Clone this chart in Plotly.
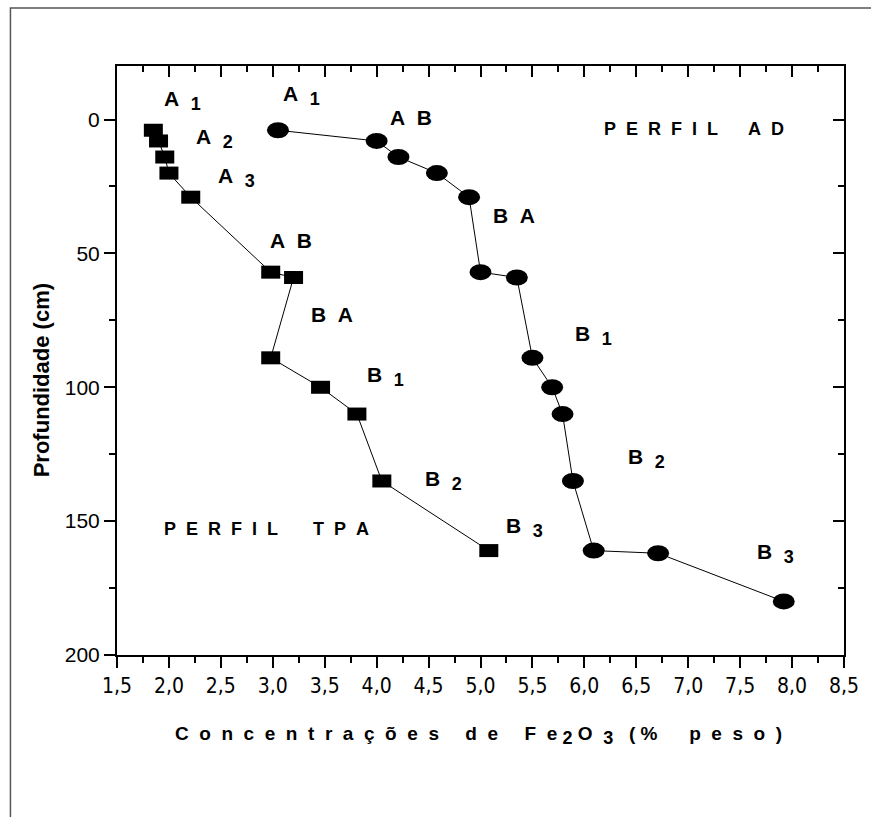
import plotly.graph_objects as go

# ---- data ----
tpa_fe = [1.85, 1.90, 1.96, 2.00, 2.21, 2.98, 3.20, 2.98, 3.46, 3.81, 4.05, 5.08]
tpa_depth = [4, 8, 14, 20, 29, 57, 59, 89, 100, 110, 135, 161]
ad_fe = [3.05, 4.00, 4.21, 4.58, 4.89, 5.00, 5.35, 5.50, 5.69, 5.79, 5.89, 6.09, 6.71, 7.92]
ad_depth = [4, 8, 14, 20, 29, 57, 59, 89, 100, 110, 135, 161, 162, 180]

x_ticks = [1.5, 2.0, 2.5, 3.0, 3.5, 4.0, 4.5, 5.0, 5.5, 6.0, 6.5, 7.0, 7.5, 8.0, 8.5]
y_ticks = [0, 50, 100, 150, 200]

# horizon labels: (main, sub, x, y)
tpa_labels = [("A", "1", 1.93, -7), ("A", "2", 2.24, 7), ("A", "3", 2.45, 21.5),
              ("A\u00a0\u00a0B", "", 2.95, 45), ("B\u00a0\u00a0A", "", 3.35, 73),
              ("B", "1", 3.89, 96), ("B", "2", 4.45, 135), ("B", "3", 5.23, 152.5)]
ad_labels = [("A", "1", 3.08, -9), ("A\u00a0\u00a0B", "", 4.11, -0.7), ("B\u00a0\u00a0A", "", 5.10, 36),
             ("B", "1", 5.89, 80.5), ("B", "2", 6.40, 126.5), ("B", "3", 7.64, 162)]

FONT = "Liberation Sans, Arial, sans-serif"
W, H = 871, 817
ML, MR, MT, MB = 117, 24, 66, 162

fig = go.Figure()
fig.add_trace(go.Scatter(x=tpa_fe, y=tpa_depth, mode="lines",
                         line=dict(color="black", width=1), showlegend=False))
fig.add_trace(go.Scatter(x=ad_fe, y=ad_depth, mode="lines",
                         line=dict(color="black", width=1), showlegend=False))

shapes = []
for xv, yv in zip(tpa_fe, tpa_depth):
    shapes.append(dict(type="rect", xref="x", yref="y", xsizemode="pixel", ysizemode="pixel",
                       xanchor=xv, yanchor=yv, x0=-9.5, x1=9.5, y0=-6.5, y1=6.5,
                       fillcolor="black", line=dict(width=0), layer="above"))
for xv, yv in zip(ad_fe, ad_depth):
    shapes.append(dict(type="circle", xref="x", yref="y", xsizemode="pixel", ysizemode="pixel",
                       xanchor=xv, yanchor=yv, x0=-11, x1=11, y0=-8, y1=8,
                       fillcolor="black", line=dict(width=0), layer="above"))
# outer frame
shapes.append(dict(type="rect", xref="paper", yref="paper",
                   x0=(10 - ML) / (W - ML - MR), x1=(880 - ML) / (W - ML - MR),
                   y0=(H - MB - 830) / (H - MT - MB), y1=(H - MB - 8) / (H - MT - MB),
                   line=dict(color="#555555", width=1.5), fillcolor="rgba(0,0,0,0)", layer="below"))

sp = "\u00a0"


def subtxt(s, size):
    return "<sub><span style='font-size:%dpx'>%s</span></sub>" % (size, s)


ann = []


def lab(main, sub, x, y):
    t = "<b>" + main + (sp * 2 + subtxt(sub, 18) if sub else "") + "</b>"
    ann.append(dict(x=x, y=y, xref="x", yref="y", text=t, showarrow=False,
                    xanchor="left", yanchor="middle", font=dict(family=FONT, size=21, color="black")))


for l in tpa_labels + ad_labels:
    lab(*l)


def spaced(s, gap=2):
    return (sp * gap).join(s)


ann.append(dict(x=1.93, y=153, xref="x", yref="y", xanchor="left", yanchor="middle", showarrow=False,
                text="<b>" + spaced("PERFIL") + sp * 7 + spaced("TPA") + "</b>",
                font=dict(family=FONT, size=18, color="black")))
ann.append(dict(x=6.17, y=3.5, xref="x", yref="y", xanchor="left", yanchor="middle", showarrow=False,
                text="<b>" + spaced("PERFIL") + sp * 6 + spaced("AD") + "</b>",
                font=dict(family=FONT, size=18, color="black")))
# axis titles
g = 2
xt = (spaced("Concentrações", g) + sp * 5 + spaced("de", g) + sp * 5 + "F" + sp * g + "e" + sp
      + subtxt("2", 18) + sp + "O" + sp * g + subtxt("3", 18) + sp * 3 + "(" + sp + "%" + sp * 6
      + spaced("peso", g) + sp * g + ")")
ann.append(dict(x=(480 - ML) / (W - ML - MR), y=(H - MB - 735) / (H - MT - MB), xref="paper", yref="paper",
                showarrow=False, text="<b>" + xt + "</b>", xanchor="center", yanchor="middle",
                font=dict(family=FONT, size=19, color="black")))
ann.append(dict(x=(42 - ML) / (W - ML - MR), y=(H - MB - 380) / (H - MT - MB), xref="paper", yref="paper",
                showarrow=False, text="<b>Profundidade (cm)</b>", textangle=-90,
                xanchor="center", yanchor="middle", font=dict(family=FONT, size=22, color="black")))

xr = [1.5, 8.5]
yr = [200, -20]
tickfont_x = dict(family="Liberation Sans Narrow, DejaVu Sans Condensed, Arial Narrow, " + FONT, size=21, color="black")
fig.update_layout(
    width=W, height=H, margin=dict(l=ML, r=MR, t=MT, b=MB),
    paper_bgcolor="white", plot_bgcolor="white", separators=",.",
    shapes=shapes, annotations=ann, showlegend=False,
    xaxis=dict(range=xr, tickvals=x_ticks, tickformat=".1f", ticks="outside", ticklen=11, tickwidth=2,
               showline=True, linewidth=2, linecolor="black", showgrid=False, zeroline=False,
               tickfont=tickfont_x,
               minor=dict(dtick=0.25, tick0=1.5, ticks="outside", ticklen=6, tickwidth=2, tickcolor="black", showgrid=False),
               tickcolor="black"),
    xaxis2=dict(range=xr, overlaying="x", side="top", tickvals=x_ticks, ticks="inside", ticklen=11, tickwidth=2,
                showticklabels=False, showline=True, linewidth=2, linecolor="black", showgrid=False, zeroline=False,
                minor=dict(dtick=0.25, tick0=1.5, ticks="inside", ticklen=6, tickwidth=2, tickcolor="black", showgrid=False),
                tickcolor="black"),
    yaxis=dict(range=yr, tickvals=y_ticks, ticks="outside", ticklen=11, tickwidth=2,
               showline=True, linewidth=2, linecolor="black", showgrid=False, zeroline=False,
               tickfont=dict(family=FONT, size=21, color="black"),
               minor=dict(dtick=25, tick0=0, ticks="outside", ticklen=6, tickwidth=2, tickcolor="black", showgrid=False),
               tickcolor="black"),
    yaxis2=dict(range=yr, overlaying="y", side="right", tickvals=y_ticks, ticks="inside", ticklen=11, tickwidth=2,
                showticklabels=False, showline=True, linewidth=2, linecolor="black", showgrid=False, zeroline=False,
                minor=dict(dtick=25, tick0=0, ticks="inside", ticklen=6, tickwidth=2, tickcolor="black", showgrid=False),
                tickcolor="black"),
)
# invisible trace to activate the mirrored axes
fig.add_trace(go.Scatter(x=[xr[0]], y=[yr[1]], xaxis="x2", yaxis="y2", mode="markers",
                         marker=dict(opacity=0), hoverinfo="skip", showlegend=False))
fig.write_html("out.html")
